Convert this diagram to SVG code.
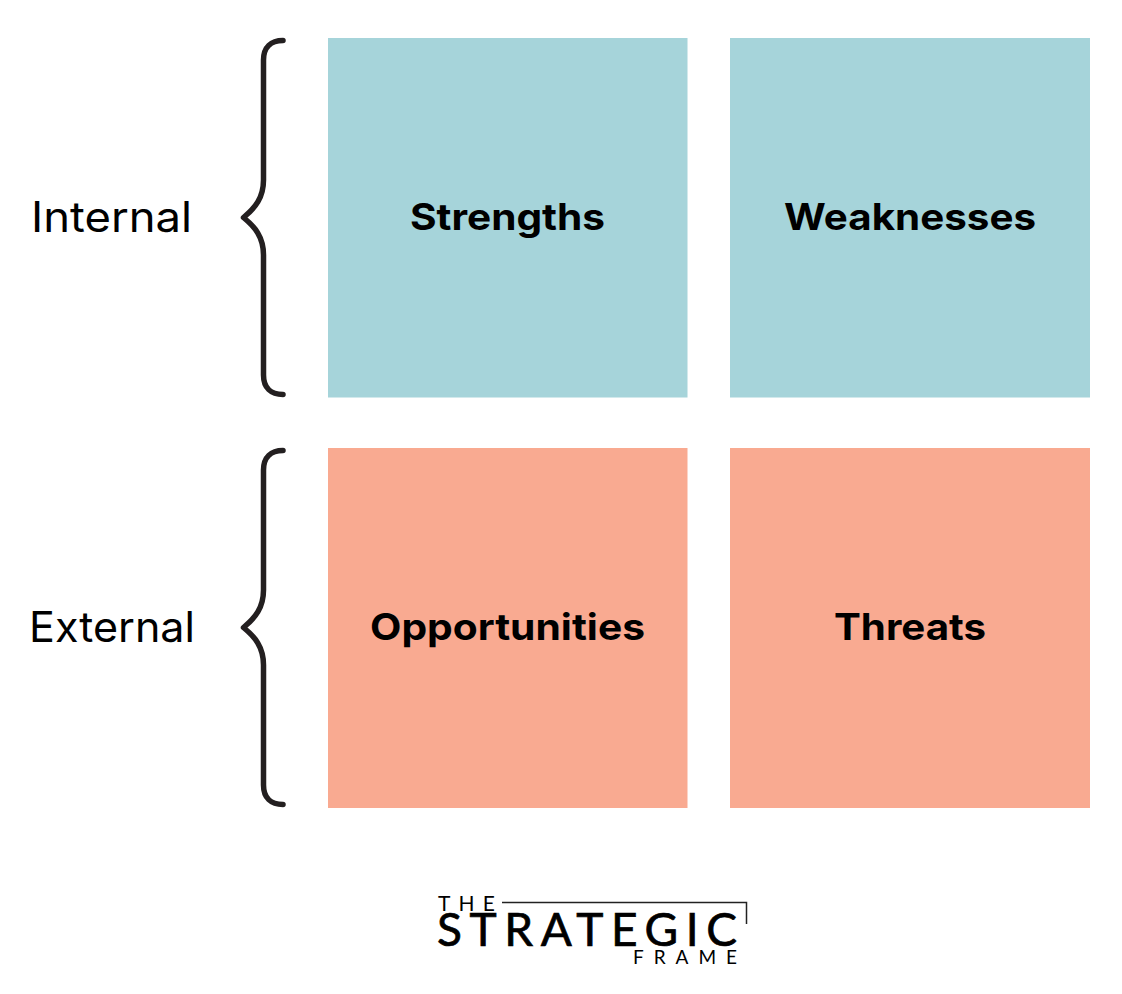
<svg xmlns="http://www.w3.org/2000/svg" width="1122" height="994" viewBox="0 0 1122 994">
  <style>
    .box { stroke: none; }
    .blue { fill: #a6d4da; }
    .orange { fill: #f9aa91; }
    .title { font-family: "Inter", "Liberation Sans", sans-serif; font-weight: 700; font-size: 37px; fill: #000; }
    .side { font-family: "Inter", "Liberation Sans", sans-serif; font-weight: 400; font-size: 42px; fill: #000; }
    .brace { fill: none; stroke: #231f20; stroke-width: 5.500; stroke-linecap: round; stroke-linejoin: round; }
    .logo { font-family: "Lato", "Liberation Sans", sans-serif; fill: #000; }
    .heavy { stroke: #000; stroke-width: 0.700; }
    .frame { fill: none; stroke: #222; stroke-width: 1.500; }
  </style>
  <rect width="1122" height="994" fill="#ffffff"/>
  <g id="connectors">
    <path class="brace" d="M283 40.500 C271 40.500 263.500 47 263.500 60 L263.500 180 C263.500 198 255 208 243.500 217.500 C255 227 263.500 237 263.500 255 L263.500 375 C263.500 388 271 394.500 283 394.500"/>
    <path class="brace" d="M283 450.500 C271 450.500 263.500 457 263.500 470 L263.500 590 C263.500 608 255 618 243.500 627.500 C255 637 263.500 647 263.500 665 L263.500 785 C263.500 798 271 804.500 283 804.500"/>
  </g>
  <g id="label-internal"><text class="side" x="31" y="232" textLength="161" lengthAdjust="spacingAndGlyphs">Internal</text></g>
  <g id="label-external"><text class="side" x="29" y="642" textLength="166" lengthAdjust="spacingAndGlyphs">External</text></g>
  <g id="node-strengths">
    <rect class="box blue" x="328" y="38" width="359.500" height="359.500"/>
    <text class="title" x="410" y="230" textLength="195" lengthAdjust="spacingAndGlyphs">Strengths</text>
  </g>
  <g id="node-weaknesses">
    <rect class="box blue" x="730" y="38" width="360" height="359.500"/>
    <text class="title" x="784" y="230" textLength="252" lengthAdjust="spacingAndGlyphs">Weaknesses</text>
  </g>
  <g id="node-opportunities">
    <rect class="box orange" x="328" y="448" width="359.500" height="360"/>
    <text class="title" x="370" y="640" textLength="275" lengthAdjust="spacingAndGlyphs">Opportunities</text>
  </g>
  <g id="node-threats">
    <rect class="box orange" x="730" y="448" width="360" height="360"/>
    <text class="title" x="834" y="640" textLength="152" lengthAdjust="spacingAndGlyphs">Threats</text>
  </g>
  <g id="logo">
    <path class="frame" d="M502 902.500 H746.500 V924"/>
    <text class="logo" x="438" y="911" font-size="21" textLength="57">THE</text>
    <text class="logo heavy" x="437" y="946" font-size="46" textLength="300">STRATEGIC</text>
    <text class="logo" x="633" y="964" font-size="19" textLength="104">FRAME</text>
  </g>
</svg>
